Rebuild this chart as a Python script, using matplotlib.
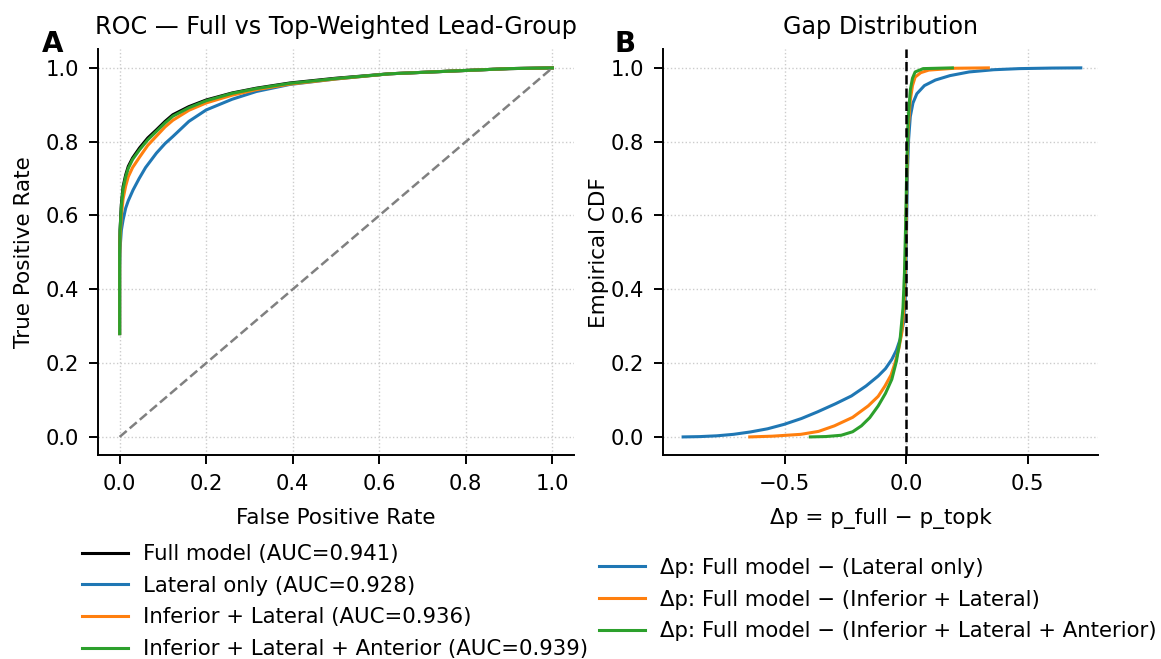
import matplotlib
matplotlib.use('Agg')
import matplotlib.pyplot as plt

plt.rcParams['font.family'] = ['DejaVu Sans']
plt.rcParams['font.size'] = 15.5
plt.rcParams['xtick.labelsize'] = 15.2
plt.rcParams['ytick.labelsize'] = 15.2

# ROC curves
roc_labels = ['Full model (AUC=0.941)', 'Lateral only (AUC=0.928)',
              'Inferior + Lateral (AUC=0.936)',
              'Inferior + Lateral + Anterior (AUC=0.939)']
roc_colors = ['black', '#1f77b4', '#ff7f0e', '#2ca02c']

fpr_full = [0.0, 0.0, 0.001, 0.004, 0.008, 0.014, 0.02, 0.03, 0.046, 0.065, 0.085, 0.105, 0.123, 0.16, 0.2, 0.26, 0.316, 0.393, 0.5, 0.624, 0.8, 0.9, 1.0]
tpr_full = [0.28, 0.5, 0.56, 0.63, 0.678, 0.71, 0.733, 0.756, 0.783, 0.81, 0.832, 0.855, 0.873, 0.895, 0.913, 0.932, 0.945, 0.959, 0.972, 0.984, 0.993, 0.998, 1.0]

fpr_lat = [0.0, 0.0, 0.001, 0.004, 0.008, 0.014, 0.02, 0.031, 0.045, 0.06, 0.085, 0.105, 0.123, 0.16, 0.2, 0.26, 0.316, 0.393, 0.5, 0.624, 0.8, 0.9, 1.0]
tpr_lat = [0.28, 0.46, 0.51, 0.56, 0.588, 0.62, 0.64, 0.669, 0.7, 0.73, 0.769, 0.795, 0.814, 0.855, 0.886, 0.915, 0.936, 0.955, 0.970, 0.984, 0.993, 0.998, 1.0]

fpr_inflat = [0.0, 0.0, 0.001, 0.004, 0.008, 0.014, 0.02, 0.03, 0.046, 0.065, 0.085, 0.105, 0.123, 0.16, 0.2, 0.26, 0.316, 0.393, 0.5, 0.624, 0.8, 0.9, 1.0]
tpr_inflat = [0.28, 0.48, 0.54, 0.6, 0.645, 0.68, 0.705, 0.73, 0.758, 0.79, 0.815, 0.84, 0.858, 0.885, 0.905, 0.926, 0.941, 0.956, 0.970, 0.984, 0.993, 0.998, 1.0]

fpr_all = [0.0, 0.0, 0.001, 0.004, 0.008, 0.014, 0.02, 0.03, 0.046, 0.065, 0.085, 0.105, 0.123, 0.16, 0.2, 0.26, 0.316, 0.393, 0.5, 0.624, 0.8, 0.9, 1.0]
tpr_all = [0.28, 0.5, 0.56, 0.625, 0.672, 0.705, 0.728, 0.752, 0.778, 0.805, 0.828, 0.851, 0.869, 0.892, 0.911, 0.931, 0.944, 0.958, 0.971, 0.984, 0.993, 0.998, 1.0]

roc_fpr = [fpr_full, fpr_lat, fpr_inflat, fpr_all]
roc_tpr = [tpr_full, tpr_lat, tpr_inflat, tpr_all]

# gap CDFs
gap_labels = ['\u0394p: Full model \u2212 (Lateral only)',
              '\u0394p: Full model \u2212 (Inferior + Lateral)',
              '\u0394p: Full model \u2212 (Inferior + Lateral + Anterior)']
gap_colors = ['#1f77b4', '#ff7f0e', '#2ca02c']

dp_lat = [-0.917, -0.85, -0.778, -0.71, -0.64, -0.57, -0.502, -0.43, -0.364, -0.29, -0.225, -0.165, -0.115, -0.085, -0.059, -0.04, -0.025, -0.011, -0.004, -0.001, 0.001, 0.003, 0.006, 0.01, 0.017, 0.028, 0.044, 0.075, 0.12, 0.18, 0.259, 0.36, 0.466, 0.6, 0.718]
cdf_lat = [0.0, 0.0008, 0.003, 0.007, 0.0135, 0.022, 0.034, 0.05, 0.068, 0.09, 0.111, 0.138, 0.165, 0.185, 0.21, 0.235, 0.264, 0.309, 0.37, 0.444, 0.53, 0.625, 0.73, 0.805, 0.868, 0.905, 0.93, 0.952, 0.967, 0.979, 0.989, 0.995, 0.998, 0.9995, 1.0]

dp_inflat = [-0.643, -0.55, -0.433, -0.36, -0.295, -0.22, -0.156, -0.115, -0.087, -0.062, -0.046, -0.03, -0.018, -0.009, -0.004, 0.0, 0.003, 0.008, 0.017, 0.026, 0.037, 0.06, 0.093, 0.2, 0.338]
cdf_inflat = [0.0, 0.002, 0.007, 0.015, 0.03, 0.053, 0.084, 0.11, 0.138, 0.168, 0.2, 0.24, 0.282, 0.35, 0.444, 0.58, 0.714, 0.83, 0.912, 0.952, 0.975, 0.987, 0.994, 0.999, 1.0]

dp_all = [-0.394, -0.33, -0.267, -0.22, -0.184, -0.15, -0.115, -0.085, -0.059, -0.04, -0.025, -0.013, -0.007, -0.002, 0.002, 0.008, 0.017, 0.026, 0.037, 0.07, 0.19]
cdf_all = [0.0, 0.001, 0.0045, 0.014, 0.03, 0.052, 0.084, 0.118, 0.156, 0.205, 0.264, 0.35, 0.444, 0.58, 0.714, 0.86, 0.94, 0.972, 0.989, 0.998, 1.0]

gap_x = [dp_lat, dp_inflat, dp_all]
gap_y = [cdf_lat, cdf_inflat, cdf_all]

fig = plt.figure(figsize=(11.61, 6.59), dpi=100)
ax1 = fig.add_axes([0.0844, 0.309, 0.41, 0.616])
ax2 = fig.add_axes([0.571, 0.309, 0.375, 0.616])

for x, y, c, lab in zip(roc_fpr, roc_tpr, roc_colors, roc_labels):
    ax1.plot(x, y, color=c, lw=2.2, label=lab)
ax1.plot([0, 1], [0, 1], ls='--', color='gray', lw=1.8)
ax1.set_xlim(-0.05, 1.05)
ax1.set_ylim(-0.05, 1.05)
ax1.set_xlabel('False Positive Rate', labelpad=10)
ax1.set_ylabel('True Positive Rate', labelpad=8.5)
ax1.set_title('ROC \u2014 Full vs Top-Weighted Lead-Group', fontsize=17.2, pad=11)

for x, y, c, lab in zip(gap_x, gap_y, gap_colors, gap_labels):
    ax2.plot(x, y, color=c, lw=2.2, label=lab)
ax2.axvline(0, color='black', ls='--', lw=1.8)
ax2.set_xlim(-1.0, 0.79)
ax2.set_ylim(-0.05, 1.05)
ax2.set_xticks([-0.5, 0.0, 0.5])
ax2.set_xlabel('\u0394p = p_full \u2212 p_topk', labelpad=10)
ax2.set_ylabel('Empirical CDF', labelpad=1.5)
ax2.set_title('Gap Distribution', fontsize=17.2, pad=11)

for ax in (ax1, ax2):
    ax.spines['top'].set_visible(False)
    ax.spines['right'].set_visible(False)
    ax.spines['left'].set_linewidth(1.4)
    ax.spines['bottom'].set_linewidth(1.4)
    ax.tick_params(width=1.4, length=6.5, pad=7)
    ax.grid(True, ls=':', color='#cccccc', lw=1)

fig.text(0.036, 0.921, 'A', fontsize=20, fontweight='bold', va='baseline')
fig.text(0.529, 0.921, 'B', fontsize=20, fontweight='bold', va='baseline')

fig.legend(*ax1.get_legend_handles_labels(), loc='upper center',
           bbox_to_anchor=(0.2885, 0.197), frameon=False,
           fontsize=15.3, labelspacing=0.55, handlelength=2.17,
           handletextpad=0.7, borderpad=0.2)
fig.legend(*ax2.get_legend_handles_labels(), loc='upper center',
           bbox_to_anchor=(0.756, 0.176), frameon=False,
           fontsize=15.3, labelspacing=0.55, handlelength=2.17,
           handletextpad=0.7, borderpad=0.2)

fig.savefig('out.png', dpi=100)
